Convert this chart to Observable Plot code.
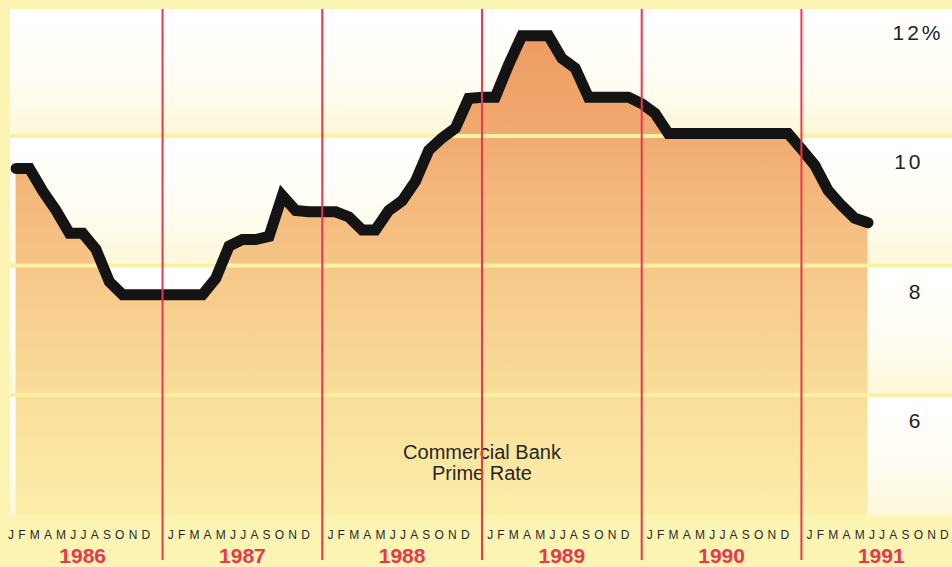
<!DOCTYPE html>
<html><head><meta charset="utf-8">
<script src="https://cdn.jsdelivr.net/npm/d3@7"></script>
<script src="https://cdn.jsdelivr.net/npm/@observablehq/plot@0.6"></script>
<style>
html,body{margin:0;padding:0;background:#fbf4b3;}
#chart{width:952px;height:567px;overflow:hidden;}
</style></head><body><div id="chart"></div>
<script>
// ---- data (monthly prime rate, %) ----
const years = [1986, 1987, 1988, 1989, 1990, 1991];
const monthLetters = "JFMAMJJASOND";
const rate1986 = [9.5, 9.5, 9.15, 8.85, 8.5, 8.5, 8.25, 7.75, 7.55, 7.55, 7.55, 7.55];
const rate1987 = [7.55, 7.55, 7.55, 7.8, 8.3, 8.4, 8.4, 8.45, 9.08, 8.85, 8.83, 8.83];
const rate1988 = [8.83, 8.75, 8.55, 8.55, 8.85, 9.0, 9.3, 9.78, 9.97, 10.12, 10.58, 10.6];
const rate1989 = [10.6, 11.1, 11.55, 11.55, 11.55, 11.2, 11.05, 10.6, 10.6, 10.6, 10.6, 10.5];
const rate1990 = [10.35, 10.04, 10.04, 10.04, 10.04, 10.04, 10.04, 10.04, 10.04, 10.04, 10.04, 9.8];
const rate1991 = [9.55, 9.16, 8.93, 8.73, 8.66];
const yTicks = [10, 8, 6];
const yTickLabels = ["10", "8", "6"];
const topTick = [12];
const topTickLabel = ["12%"];
const seriesLabel = ["Commercial Bank\nPrime Rate"];

// ---- build tables ----
const series = [rate1986, rate1987, rate1988, rate1989, rate1990, rate1991];
const data = series.flatMap((arr, yi) => arr.map((v, m) => ({t: yi * 12 + m + 1, rate: v})));
const xDomain = [0.578, 71.35];
const yDomain = [4.139, 11.954];
const bounds = [yDomain[0], ...yTicks.slice().reverse(), yDomain[1]];
const bands = bounds.slice(0, -1).map((lo, i) => ({lo, hi: bounds[i + 1]}));
const seps = years.slice(1).map((y, i) => (i + 1) * 12);
const yearTable = years.map((y, i) => ({t: i * 12 + 6, year: String(y), months: monthLetters}));
const yLabelTable = yTicks.map((v, i) => ({v, label: yTickLabels[i]}));
const topLabelTable = topTick.map((v, i) => ({v, label: topTickLabel[i]}));

const font = "Liberation Sans, Arial, Helvetica, sans-serif";

const chart = Plot.plot({
  width: 952, height: 567,
  marginTop: 9, marginBottom: 52, marginLeft: 10, marginRight: 0,
  style: {background: "transparent", fontFamily: font},
  x: {domain: xDomain, axis: null},
  y: {domain: yDomain, axis: null},
  marks: [
    Plot.rect(bands, {x1: () => xDomain[0], x2: () => xDomain[1], y1: "lo", y2: "hi", fill: "url(#bandGrad)"}),
    Plot.areaY(data, {x: "t", y1: () => yDomain[0], y2: "rate", fill: "url(#areaGrad)"}),
    Plot.ruleY(yTicks, {stroke: "#fbf1a2", strokeWidth: 4}),
    Plot.line(data, {x: "t", y: "rate", stroke: "#141414", strokeWidth: 11, strokeLinejoin: "miter", strokeMiterlimit: 6}),
    Plot.text(seriesLabel, {x: () => 36, frameAnchor: "bottom", dy: -36, lineAnchor: "bottom", text: d => d, fontSize: 20, lineHeight: 1.05, fill: "#262626", textAnchor: "middle"}),
    Plot.ruleX(seps, {stroke: "#e8384f", strokeWidth: 2, insetBottom: -45}),
    Plot.text(yearTable, {x: "t", text: "months", frameAnchor: "bottom", dy: 23, dx: -1.5, lineAnchor: "bottom", fontSize: 12, fill: "#2a2a2a"}),
    Plot.text(yearTable, {x: "t", text: "year", frameAnchor: "bottom", dy: 47, lineAnchor: "bottom", fontSize: 21, fontWeight: "bold", fill: "#e8384f"}),
    Plot.text(yLabelTable, {y: "v", text: "label", frameAnchor: "right", dx: -29, dy: 33, lineAnchor: "bottom", textAnchor: "end", fontSize: 21, fill: "#222"}),
    Plot.text(topLabelTable, {y: "v", text: "label", frameAnchor: "right", dx: -60, dy: 33, lineAnchor: "bottom", textAnchor: "start", fontSize: 21, fill: "#222"})
  ]
});

const svg = chart;
const defs = d3.select(svg).insert("defs", ":first-child");
const ag = defs.append("linearGradient").attr("id", "areaGrad")
  .attr("gradientUnits", "userSpaceOnUse").attr("x1", 0).attr("y1", 30).attr("x2", 0).attr("y2", 515);
[[0, "#ed9b62"], [0.22, "#f1ab70"], [0.48, "#f6c687"], [0.75, "#f9dd99"], [1, "#fcefaa"]]
  .forEach(([o, c]) => ag.append("stop").attr("offset", o).attr("stop-color", c));
const bg = defs.append("linearGradient").attr("id", "bandGrad").attr("x1", 0).attr("y1", 0).attr("x2", 0).attr("y2", 1);
[[0, "#ffffff"], [0.6, "#fffdf2"], [1, "#fdf8d8"]]
  .forEach(([o, c]) => bg.append("stop").attr("offset", o).attr("stop-color", c));

d3.select(svg).selectAll("text").filter(function () { return this.textContent === monthLetters; })
  .attr("letter-spacing", "4.2px");
d3.select(svg).selectAll("text").filter(function () { return /^\d+%?$/.test(this.textContent) && this.textContent.length <= 3; })
  .attr("letter-spacing", "3px");

document.getElementById("chart").appendChild(svg);
</script>
</body></html>
